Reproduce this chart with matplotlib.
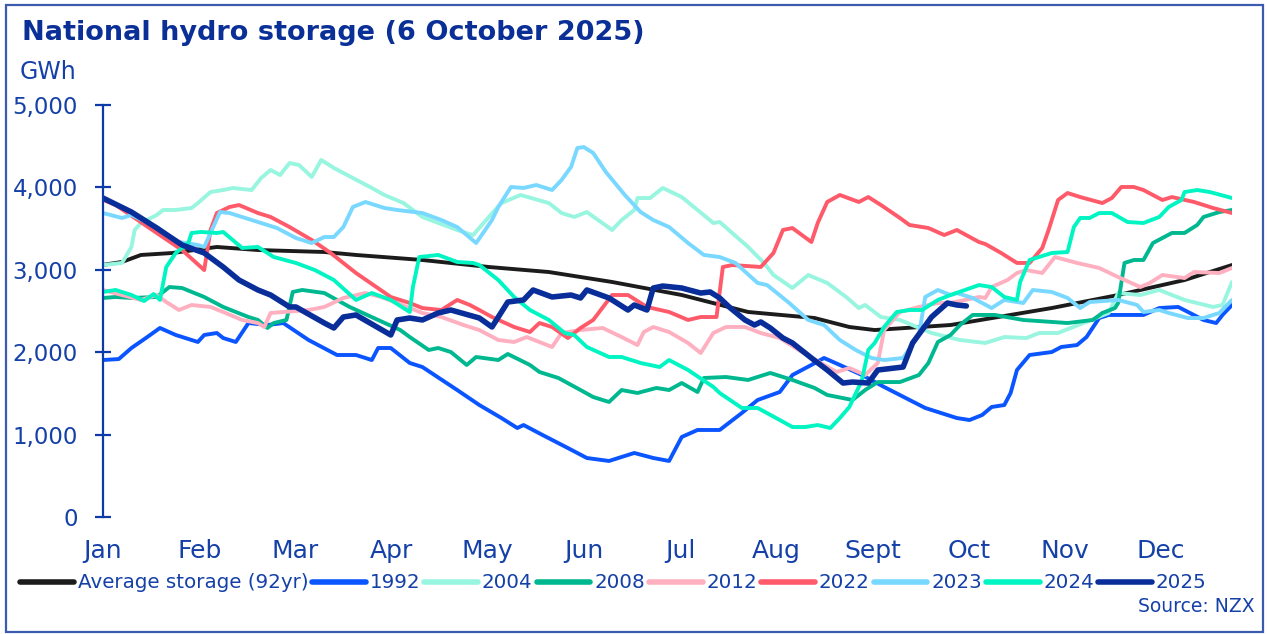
import matplotlib
matplotlib.use("Agg")
import matplotlib.pyplot as plt
from matplotlib.patches import Rectangle
import numpy as np

# ---------------- data (day of year, GWh) ----------------
month_labels = ["Jan", "Feb", "Mar", "Apr", "May", "Jun", "Jul", "Aug", "Sept", "Oct", "Nov", "Dec"]
y_ticks = [0, 1000, 2000, 3000, 4000, 5000]

avg_days = [0, 6, 12, 22, 36, 49, 70, 80, 101, 122, 141, 161, 183, 204, 225, 236, 244, 268, 300, 321, 342, 357]
avg_vals = [3060, 3095, 3180, 3204, 3277, 3240, 3216, 3180, 3119, 3034, 2973, 2852, 2694, 2488, 2415, 2306, 2269,
            2330, 2536, 2694, 2876, 3058]

d92 = [0, 5, 9, 14, 18, 23, 30, 32, 36, 38, 42, 46, 52, 57, 65, 74, 80, 85, 87, 91, 97, 101, 112, 119, 126, 131, 133,
       139, 147, 153, 160, 168, 174, 179, 183, 188, 195, 202, 207, 214, 218, 224, 228, 233, 240, 247, 260, 270, 274,
       278, 281, 285, 287, 289, 293, 300, 303, 308, 311, 315, 318, 329, 334, 340, 348, 352, 354, 357]
v92 = [1905, 1917, 2051, 2184, 2294, 2209, 2124, 2209, 2233, 2172, 2124, 2354, 2330, 2354, 2148, 1966, 1966, 1905, 2051,
       2051, 1869, 1820, 1541, 1359, 1201, 1080, 1116, 995, 837, 716, 680, 777, 716, 680, 971, 1056, 1056, 1262, 1420,
       1517, 1723, 1845, 1930, 1845, 1723, 1578, 1323, 1201, 1177, 1238, 1335, 1359, 1505, 1784, 1966, 2002, 2063,
       2087, 2184, 2415, 2452, 2452, 2536, 2549, 2391, 2354, 2452, 2573]

d04 = [0, 6, 9, 10, 12, 17, 19, 23, 28, 30, 34, 38, 41, 47, 50, 53, 56, 59, 62, 66, 69, 73, 79, 85, 89, 95, 101, 112,
       117, 122, 126, 132, 141, 145, 149, 153, 161, 164, 168, 169, 173, 177, 183, 193, 195, 204, 209, 212, 218, 223,
       229, 235, 239, 241, 246, 252, 262, 271, 279, 285, 292, 296, 302, 310, 318, 321, 328, 334, 342, 351, 354, 357]
v04 = [3058, 3083, 3277, 3483, 3568, 3665, 3726, 3726, 3750, 3810, 3944, 3968, 3993, 3968, 4114, 4211, 4150, 4296,
       4272, 4126, 4333, 4236, 4114, 3993, 3908, 3810, 3641, 3483, 3420, 3641, 3810, 3908, 3810, 3689, 3641, 3701,
       3483, 3604, 3726, 3871, 3871, 3993, 3883, 3568, 3580, 3277, 3083, 2937, 2779, 2937, 2840, 2670, 2536, 2573,
       2427, 2391, 2233, 2148, 2112, 2184, 2172, 2233, 2233, 2354, 2476, 2718, 2694, 2755, 2634, 2549, 2573, 2852]

d08 = [0, 4, 9, 17, 21, 25, 32, 38, 46, 49, 52, 54, 58, 60, 63, 70, 78, 87, 94, 97, 103, 106, 110, 115, 118, 125, 128,
       135, 138, 144, 151, 155, 160, 164, 169, 175, 179, 183, 188, 190, 197, 204, 211, 218, 225, 229, 237, 241, 245,
       252, 258, 261, 264, 268, 271, 275, 282, 291, 305, 313, 316, 320, 321, 323, 326, 329, 332, 338, 342, 346, 348,
       353, 357]
v08 = [2658, 2670, 2658, 2670, 2791, 2779, 2670, 2549, 2427, 2391, 2294, 2354, 2391, 2731, 2755, 2718, 2549, 2391,
       2269, 2184, 2027, 2051, 2002, 1845, 1942, 1905, 1978, 1845, 1760, 1687, 1541, 1456, 1396, 1541, 1505, 1566,
       1541, 1626, 1517, 1687, 1699, 1663, 1748, 1663, 1566, 1481, 1420, 1541, 1638, 1638, 1723, 1869, 2124, 2209,
       2330, 2452, 2452, 2391, 2354, 2391, 2476, 2536, 2597, 3083, 3119, 3119, 3325, 3447, 3447, 3544, 3641, 3701, 3726]

d12 = [0, 6, 12, 17, 20, 24, 28, 34, 38, 44, 49, 51, 53, 57, 65, 70, 76, 83, 88, 93, 101, 107, 114, 119, 125, 130, 134,
       142, 145, 151, 158, 164, 169, 171, 174, 179, 185, 189, 193, 197, 203, 208, 214, 221, 228, 232, 236, 241, 245,
       247, 252, 258, 264, 268, 277, 279, 281, 286, 289, 292, 297, 301, 308, 315, 321, 328, 331, 335, 342, 345, 353, 357]
v12 = [2755, 2694, 2634, 2694, 2609, 2512, 2573, 2549, 2488, 2391, 2354, 2306, 2476, 2488, 2512, 2549, 2658, 2718,
       2670, 2597, 2476, 2427, 2330, 2269, 2148, 2124, 2184, 2063, 2233, 2269, 2294, 2184, 2087, 2245, 2306, 2245,
       2112, 1990, 2233, 2306, 2306, 2233, 2172, 2002, 1845, 1760, 1808, 1723, 1869, 2269, 2488, 2549, 2597, 2597,
       2670, 2658, 2791, 2876, 2961, 2997, 2961, 3155, 3083, 3022, 2912, 2791, 2840, 2937, 2900, 2973, 2961, 3022]

d22 = [0, 4, 17, 25, 32, 34, 36, 40, 43, 49, 53, 59, 66, 72, 80, 91, 97, 101, 107, 112, 116, 119, 123, 130, 135, 138,
       142, 147, 151, 155, 161, 166, 172, 179, 185, 189, 194, 196, 199, 208, 212, 215, 218, 224, 226, 229, 233, 239,
       242, 246, 252, 255, 261, 266, 270, 277, 279, 284, 289, 293, 297, 299, 302, 305, 309, 316, 319, 322, 326, 329,
       335, 338, 345, 351, 357]
v22 = [3850, 3786, 3447, 3240, 2997, 3483, 3689, 3762, 3786, 3689, 3641, 3519, 3362, 3204, 2961, 2670, 2597, 2536,
       2512, 2634, 2573, 2512, 2427, 2306, 2245, 2354, 2306, 2172, 2294, 2391, 2694, 2694, 2549, 2488, 2391, 2427,
       2427, 3034, 3058, 3034, 3204, 3483, 3507, 3337, 3568, 3823, 3908, 3823, 3883, 3786, 3629, 3544, 3507, 3422,
       3483, 3337, 3313, 3204, 3083, 3083, 3265, 3483, 3847, 3932, 3883, 3810, 3871, 4005, 4005, 3968, 3847, 3883,
       3823, 3750, 3689]

d23 = [0, 6, 9, 17, 21, 24, 30, 32, 37, 40, 49, 55, 61, 66, 70, 73, 76, 79, 83, 89, 93, 101, 107, 112, 118, 123, 125,
       129, 133, 137, 142, 145, 148, 150, 152, 155, 159, 165, 170, 174, 179, 185, 190, 195, 200, 207, 210, 217, 223,
       228, 233, 238, 243, 247, 253, 258, 260, 264, 268, 270, 275, 281, 285, 291, 294, 300, 305, 309, 312, 321, 327,
       329, 334, 337, 343, 348, 353, 357]
v23 = [3689, 3629, 3665, 3519, 3398, 3337, 3301, 3277, 3701, 3689, 3580, 3507, 3386, 3325, 3398, 3398, 3519, 3762,
       3823, 3750, 3726, 3689, 3604, 3519, 3325, 3604, 3762, 4005, 3993, 4029, 3968, 4090, 4248, 4478, 4490, 4418,
       4187, 3908, 3701, 3604, 3519, 3325, 3180, 3155, 3083, 2840, 2815, 2597, 2391, 2330, 2148, 2027, 1930, 1905,
       1930, 2209, 2670, 2755, 2694, 2718, 2658, 2536, 2634, 2597, 2755, 2731, 2658, 2536, 2609, 2634, 2573, 2488,
       2512, 2476, 2415, 2415, 2476, 2634]

d24 = [0, 4, 9, 13, 16, 18, 20, 23, 27, 28, 31, 36, 38, 44, 49, 54, 61, 67, 73, 80, 85, 91, 97, 98, 100, 106, 112,
       117, 119, 125, 130, 135, 141, 146, 149, 153, 160, 164, 170, 176, 179, 185, 193, 195, 202, 207, 214, 218, 222,
       226, 230, 233, 236, 239, 240, 242, 244, 247, 251, 255, 259, 264, 268, 277, 281, 285, 289, 290, 293, 300, 305,
       307, 309, 312, 315, 319, 324, 329, 334, 337, 341, 342, 346, 350, 357]
v24 = [2731, 2755, 2694, 2621, 2706, 2634, 3034, 3204, 3325, 3447, 3459, 3447, 3459, 3265, 3277, 3155, 3083, 2997,
       2876, 2634, 2718, 2634, 2488, 2791, 3155, 3180, 3095, 3083, 3058, 2876, 2670, 2512, 2391, 2233, 2209, 2063,
       1942, 1942, 1869, 1820, 1905, 1784, 1578, 1505, 1323, 1323, 1177, 1092, 1092, 1116, 1080, 1201, 1335, 1578,
       1663, 2027, 2112, 2306, 2488, 2512, 2512, 2634, 2694, 2815, 2791, 2670, 2634, 2852, 3119, 3204, 3216, 3519,
       3629, 3629, 3689, 3689, 3580, 3568, 3641, 3762, 3847, 3944, 3968, 3944, 3871]

d25 = [0, 9, 17, 25, 32, 38, 43, 49, 53, 59, 61, 70, 73, 76, 80, 91, 93, 97, 101, 106, 110, 119, 123, 128, 133, 136,
       142, 148, 151, 153, 160, 166, 168, 172, 174, 177, 183, 189, 192, 195, 198, 203, 206, 208, 211, 215, 218, 224,
       229, 234, 237, 242, 245, 253, 256, 259, 262, 267, 270, 273]
v25 = [3871, 3701, 3507, 3301, 3204, 3034, 2876, 2755, 2694, 2549, 2549, 2354, 2294, 2427, 2452, 2209, 2391, 2415,
       2391, 2476, 2512, 2415, 2306, 2609, 2634, 2755, 2670, 2694, 2658, 2755, 2658, 2512, 2573, 2512, 2779, 2803,
       2779, 2718, 2731, 2658, 2549, 2391, 2330, 2367, 2294, 2172, 2112, 1930, 1784, 1626, 1638, 1626, 1784, 1820,
       2112, 2269, 2427, 2597, 2573, 2561]

# ---------------- style ----------------
W, H = 1267, 634
fig = plt.figure(figsize=(W / 100, H / 100), dpi=100)
plt.rcParams['font.family'] = ['DejaVu Sans']

TXT = '#1440A8'
DARK = '#0A2F96'
AXC = '#0B3BA6'

ax = fig.add_axes([103 / W, 1 - 517 / H, (1232 - 103) / W, (517 - 105) / H])

series = [
    ("Average storage (92yr)", avg_days, avg_vals, '#1c1c1c', 2.8),
    ("1992", d92, v92, '#0A55FF', 2.8),
    ("2004", d04, v04, '#98F5DF', 2.8),
    ("2008", d08, v08, '#00B890', 2.8),
    ("2012", d12, v12, '#FFB0C0', 2.8),
    ("2022", d22, v22, '#FF5A6A', 2.8),
    ("2023", d23, v23, '#78D8FF', 2.8),
    ("2024", d24, v24, '#00F5C3', 2.8),
    ("2025", d25, v25, '#0A2E99', 4.0),
]
for name, dd, vv, c, lw in series:
    ax.plot(dd, vv, color=c, lw=lw, label=name, solid_capstyle='round', solid_joinstyle='round')

ax.set_xlim(0, 357)
ax.set_ylim(0, 5000)
ax.set_yticks(y_ticks)
ax.set_yticklabels([f"{v:,}" for v in y_ticks])
ax.set_xticks([i * 365 / 12 for i in range(12)])
ax.set_xticklabels(month_labels)

for s in ['top', 'right', 'bottom']:
    ax.spines[s].set_visible(False)
ax.spines['left'].set_color(AXC)
ax.spines['left'].set_linewidth(1.6)
ax.tick_params(axis='y', direction='inout', length=12, width=1.6, color=AXC,
               labelsize=16.5, labelcolor=TXT, pad=12)
ax.tick_params(axis='x', length=0, labelsize=18, labelcolor=TXT, pad=16)
ax.patch.set_alpha(0)

# legend
leg = fig.legend(loc='center left', bbox_to_anchor=(20 / W, 1 - 583 / H), ncol=9, frameon=False,
                 fontsize=14.3, handlelength=2.7, handletextpad=0.2, columnspacing=0.2,
                 borderpad=0, borderaxespad=0)
for t in leg.get_texts():
    t.set_color(TXT)
for h in leg.get_lines():
    h.set_linewidth(4)
    h.set_solid_capstyle('round')

# texts
fig.text(22 / W, 1 - 33 / H, "National hydro storage (6 October 2025)", fontsize=19.5, fontweight='bold',
         color=DARK, ha='left', va='center')
fig.text(20 / W, 1 - 72 / H, "GWh", fontsize=17, color=TXT, ha='left', va='center')
fig.text(1255 / W, 1 - 606 / H, "Source: NZX", fontsize=13.5, color=TXT, ha='right', va='center')

# outer border
fig.patches.append(Rectangle((6 / W, 1 - 632 / H), (1263 - 6) / W, (632 - 5) / H, transform=fig.transFigure,
                             fill=False, edgecolor='#3A5BAE', lw=1.6))

fig.savefig("out.png", dpi=100)
